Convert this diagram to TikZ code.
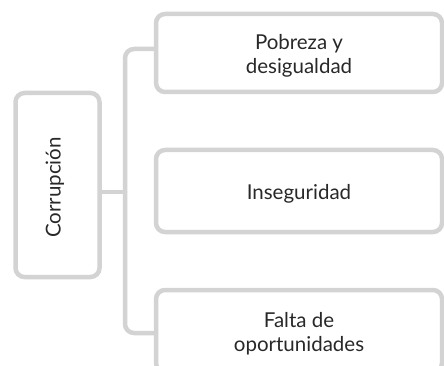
\documentclass[tikz,border=0pt]{standalone}
\usepackage{fontspec}
\setmainfont{Lato}
\definecolor{boxgray}{RGB}{211,211,211}
\definecolor{txt}{RGB}{40,40,40}
\begin{document}
\begin{tikzpicture}[x=1pt,y=-1pt,
  bx/.style={draw=boxgray,line width=4.5pt,rounded corners=9pt,inner sep=0pt},
  lbl/.style={align=center,text=txt,font=\fontsize{20.5}{24}\selectfont,inner sep=0pt,yshift=-2.5pt},
  conn/.style={draw=boxgray,line width=4.5pt,rounded corners=9pt}]
\useasboundingbox (0,0) rectangle (444,366);
\clip (0,0) rectangle (444,366);
\node[bx,minimum width=84pt,minimum height=184pt] (root) at (57.5,185) {};
\node[lbl,rotate=90,yshift=2.5pt] (rootlbl) at (root.center) {Corrupción};
\node[bx,minimum width=286pt,minimum height=78pt] (b1) at (299,53) {};
\node[lbl] (b1t) at (b1.center) {Pobreza y\\desigualdad};
\node[bx,minimum width=286pt,minimum height=82pt] (b2) at (299,191) {};
\node[lbl] (b2t) at (b2.center) {Inseguridad};
\node[bx,minimum width=286pt,minimum height=82pt] (b3) at (299,331) {};
\node[lbl] (b3t) at (b3.center) {Falta de\\oportunidades};
\coordinate (j) at (125,192);
\draw[conn] (root.east |- j) -- (j);
\draw[conn] (b1.west |- 0,49) -| (j) |- (b3.west |- 0,333);
\end{tikzpicture}
\end{document}
